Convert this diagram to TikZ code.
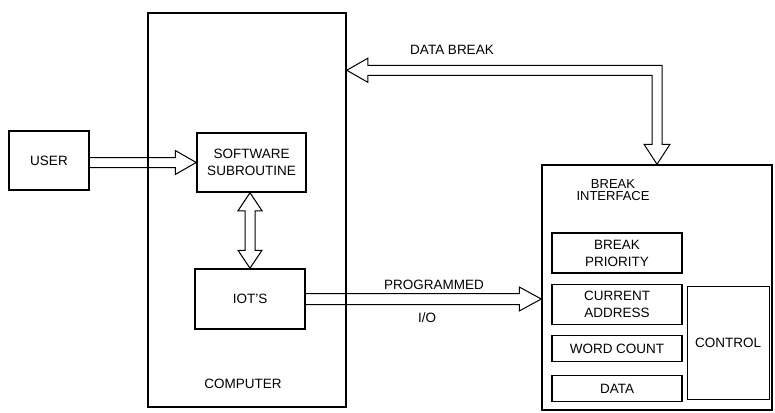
\documentclass[tikz,border=0pt]{standalone}
\usepackage{fontspec}
\setmainfont{Liberation Sans}
\usetikzlibrary{positioning,calc}

\begin{document}
\begin{tikzpicture}[x=1pt,y=-1pt,
    box/.style={draw,line width=1.5pt,inner sep=0pt,align=center},
    reg/.style={draw,line width=1.2pt,inner sep=0pt,minimum width=130pt,align=center},
    hollow/.style={draw,line width=1pt,line join=miter},
    lbl/.style={inner sep=0pt,align=center},
    font=\fontsize{13.5}{17}\selectfont]
    \useasboundingbox (0,0) rectangle (775,412);

    \node[box,minimum width=198pt,minimum height=394pt] (comp) at (247,210) {};
    \node[lbl] (complbl) at (243,384) {COMPUTER};
    \node[box,minimum width=80pt,minimum height=59pt] (user) at (49,160.5) {USER};
    \node[box,minimum width=109pt,minimum height=59pt] (sw) at (251.5,162.5) {SOFTWARE\\SUBROUTINE};
    \node[box,minimum width=110pt,minimum height=60pt] (iot) at (250,299) {IOT'S};

    \node[box,minimum width=230pt,minimum height=245pt] (brk) at (657,287.5) {};
    \node[lbl,font=\fontsize{13}{12.5}\selectfont] (brklbl) at (613,190) {BREAK\\INTERFACE};
    \node[reg,minimum height=40pt] (prio) at (617,253) {BREAK\\PRIORITY};
    \node[reg,minimum height=40pt,below=10pt of prio] (addr) {CURRENT\\ADDRESS};
    \node[reg,minimum height=26pt,below=10pt of addr] (wc) {WORD COUNT};
    \node[reg,minimum height=26pt,below=13pt of wc] (data) {DATA};
    \node[reg,minimum width=82pt,minimum height=113pt,anchor=north west] (ctrl)
        at ($(addr.north east)+(4,2)$) {CONTROL};

    \node[lbl] (dblbl) at (452,50) {DATA BREAK};
    \node[lbl] (pgmlbl) at (434,285) {PROGRAMMED};
    \node[lbl] (iolbl) at (427,318) {I/O};

    % user -> software subroutine
    \draw[hollow] ($(user.east|-sw.west)+(0,-5)$) -- ($(sw.west)+(-21,-5)$)
        -- ($(sw.west)+(-21,-12)$) -- (sw.west) -- ($(sw.west)+(-21,12)$)
        -- ($(sw.west)+(-21,5)$) -- ($(user.east|-sw.west)+(0,5)$);

    % software subroutine <-> iot's
    \coordinate (swtip) at (iot.north|-sw.south);
    \draw[hollow] (swtip) -- ++(12,18) -- ++(-7,0) -- ($(iot.north)+(5,-18)$) -- ++(7,0)
        -- (iot.north) -- ++(-12,-18) -- ++(7,0) -- ($(swtip)+(-5,18)$) -- ++(-7,0) -- cycle;

    % programmed i/o
    \coordinate (pgmtip) at (brk.west|-iot.east);
    \draw[hollow] ($(iot.east)+(0,-5.5)$) -- ($(pgmtip)+(-22,-5.5)$) -- ($(pgmtip)+(-22,-12)$)
        -- (pgmtip) -- ($(pgmtip)+(-22,12)$) -- ($(pgmtip)+(-22,5.5)$) -- ($(iot.east)+(0,5.5)$);

    % data break
    \coordinate (dtip) at ($(comp.north east)+(0,58)$);
    \coordinate (bend) at (brk.north|-dtip);
    \draw[hollow] (dtip) -- ++(21,-12) -- ++(0,7) -- ($(bend)+(5,-5)$) -- ($(brk.north)+(5,-20)$)
        -- ++(8,0) -- (brk.north) -- ++(-13,-20) -- ++(8,0) -- ($(bend)+(-5,5)$)
        -- ($(dtip)+(21,5)$) -- ++(0,7) -- cycle;
\end{tikzpicture}
\end{document}
